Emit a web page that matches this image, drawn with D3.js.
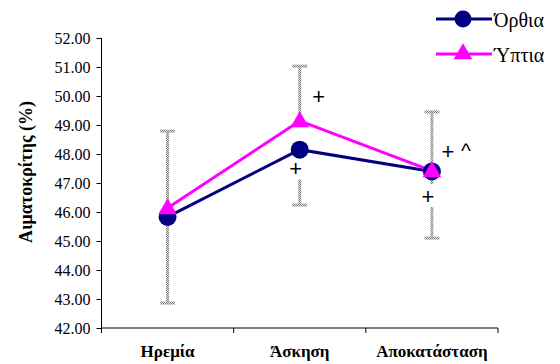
<!DOCTYPE html>
<html>
<head>
<meta charset="utf-8">
<script src="https://cdn.jsdelivr.net/npm/d3@7"></script>
<style>
  html, body { margin: 0; padding: 0; background: #fff; }
  svg { display: block; }
  .serif { font-family: "Liberation Serif", "Times New Roman", serif; }
</style>
</head>
<body>
<svg id="chart" width="560" height="364"></svg>
<script>
// Haematocrit by phase and posture
const categories = ["Ηρεμία", "Άσκηση", "Αποκατάσταση"];
const seriesNames = ["Όρθια", "Ύπτια"];
const orthia = [45.83, 48.15, 47.4];
const yptia = [46.14, 49.14, 47.42];
// one-sided error bars: Όρθια downwards, Ύπτια upwards
const orthiaErrDown = [2.97, 1.91, 2.3];
const yptiaErrUp = [2.65, 1.89, 2.03];
const yTicks = [42, 43, 44, 45, 46, 47, 48, 49, 50, 51, 52];
// significance marks: [category index, value, dx px, text, white box]
const marks = [
  [1, 50.0, 19, "+", false],
  [1, 47.5, -4, "+", true],
  [2, 48.1, 16, "+", false],
  [2, 48.23, 34, "^", false],
  [2, 46.55, -4, "+", true]
];

const svg = d3.select("#chart");
const margin = { left: 101.5, right: 62, top: 38, bottom: 36 };
const W = 560, H = 364;

const x = d3.scaleBand().domain(categories).range([margin.left, W - margin.right]);
const y = d3.scaleLinear().domain([42, 52]).range([H - margin.bottom, margin.top]);

// checkered grey fill for the error bars
const defs = svg.append("defs");
const pat = defs.append("pattern").attr("id", "hatch")
  .attr("patternUnits", "userSpaceOnUse").attr("width", 2).attr("height", 2);
pat.append("rect").attr("width", 2).attr("height", 2).attr("fill", "#e2e2e2");
pat.append("rect").attr("width", 1).attr("height", 1).attr("fill", "#808080");
pat.append("rect").attr("x", 1).attr("y", 1).attr("width", 1).attr("height", 1).attr("fill", "#808080");

// axes
const yAxis = d3.axisLeft(y).tickValues(yTicks).tickFormat(d3.format(".2f")).tickSize(5).tickPadding(6);
const gy = svg.append("g").attr("transform", `translate(${margin.left},0)`).call(yAxis);
gy.attr("font-family", null).attr("font-size", null);
gy.select(".domain").attr("d", `M0,${y(42)}V${y(52)}`);
gy.selectAll("text").attr("class", "serif").style("font-size", "16px").attr("fill", "#000");

const xAxis = d3.axisBottom(x).tickSize(0).tickFormat("");
const gx = svg.append("g").attr("transform", `translate(0,${y(42)})`).call(xAxis);
gx.select(".domain").attr("d", `M${margin.left},0H${W - margin.right}`);
// category boundary ticks
const bounds = [margin.left].concat(categories.map(c => x(c) + x.bandwidth()));
gx.selectAll(".bt").data(bounds).join("line")
  .attr("x1", d => d).attr("x2", d => d).attr("y1", 0).attr("y2", 5).attr("stroke", "#000");

svg.append("g").selectAll("text").data(categories).join("text")
  .attr("class", "serif")
  .attr("x", d => x(d) + x.bandwidth() / 2).attr("y", 357)
  .attr("text-anchor", "middle")
  .style("font-weight", "bold").style("font-size", "17px").text(d => d);

svg.append("text")
  .attr("class", "serif")
  .attr("transform", `translate(32,${(y(42) + y(52)) / 2 - 11}) rotate(-90)`)
  .attr("text-anchor", "middle")
  .style("font-weight", "bold").style("font-size", "18px").text("Αιματοκρίτης (%)");

const cx = i => x(categories[i]) + x.bandwidth() / 2;

// error bars
const bars = [];
categories.forEach((c, i) => {
  bars.push({ i, from: yptia[i], to: yptia[i] + yptiaErrUp[i] });
  bars.push({ i, from: orthia[i], to: orthia[i] - orthiaErrDown[i] });
});
const gErr = svg.append("g");
bars.forEach(b => {
  const y0 = Math.min(y(b.from), y(b.to)), y1 = Math.max(y(b.from), y(b.to));
  gErr.append("rect").attr("x", cx(b.i) - 1.5).attr("y", y0).attr("width", 3).attr("height", y1 - y0)
    .attr("fill", "url(#hatch)");
  gErr.append("rect").attr("x", cx(b.i) - 7.5).attr("y", y(b.to) - 1.5).attr("width", 15).attr("height", 3)
    .attr("fill", "url(#hatch)");
});

// significance marks (those below the markers sit on a white box)
const gMarks = svg.append("g");
marks.forEach(m => {
  const px = cx(m[0]) + m[2], py = y(m[1]);
  if (m[4]) {
    gMarks.append("rect").attr("x", px - 8).attr("y", py - 12).attr("width", 16).attr("height", 23).attr("fill", "#fff");
  }
  gMarks.append("text").attr("x", px).attr("y", py + (m[3] === "^" ? 11 : 7.5))
    .attr("text-anchor", "middle").style("font-family", "'Liberation Sans', Arial, sans-serif")
    .style("font-size", m[3] === "^" ? "21px" : "22px").attr("fill", "#000").text(m[3]);
});

// lines and markers
const navy = "#000080", magenta = "#ff00ff";
const line = d3.line().x((d, i) => cx(i)).y(d => y(d));
svg.append("path").datum(orthia).attr("d", line).attr("fill", "none").attr("stroke", navy).attr("stroke-width", 3);
svg.append("path").datum(yptia).attr("d", line).attr("fill", "none").attr("stroke", magenta).attr("stroke-width", 3);

const tri = d3.symbol().type(d3.symbolTriangle).size(150);
svg.append("g").selectAll("circle").data(orthia).join("circle")
  .attr("cx", (d, i) => cx(i)).attr("cy", d => y(d)).attr("r", 9).attr("fill", navy);
svg.append("g").selectAll("path").data(yptia).join("path")
  .attr("d", tri).attr("transform", (d, i) => `translate(${cx(i)},${y(d) + 1})`).attr("fill", magenta);

// legend
const lg = svg.append("g").attr("transform", "translate(436,0)");
const rows = [
  { name: seriesNames[0], color: navy, sym: "circle", yy: 19 },
  { name: seriesNames[1], color: magenta, sym: "tri", yy: 54 }
];
rows.forEach(r => {
  lg.append("line").attr("x1", 0).attr("x2", 56).attr("y1", r.yy).attr("y2", r.yy)
    .attr("stroke", r.color).attr("stroke-width", 3);
  if (r.sym === "circle") {
    lg.append("circle").attr("cx", 27).attr("cy", r.yy).attr("r", 8.5).attr("fill", r.color);
  } else {
    lg.append("path").attr("d", tri).attr("transform", `translate(27,${r.yy})`).attr("fill", r.color);
  }
  lg.append("text").attr("class", "serif").attr("x", 58).attr("y", r.yy + 8)
    .style("font-size", "20px").text(r.name);
});
</script>
</body>
</html>
